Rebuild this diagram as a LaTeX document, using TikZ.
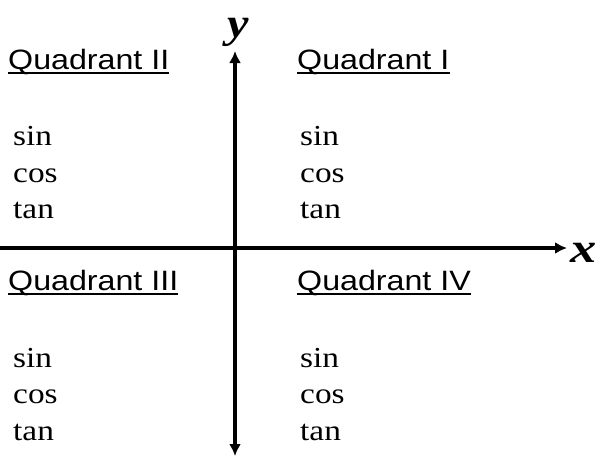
\documentclass[tikz,border=0pt]{standalone}
\usepackage{fontspec}
\setmainfont{Liberation Serif}
\newfontfamily\headfont{Liberation Sans}
\usetikzlibrary{arrows.meta}
\tikzset{
  head/.style={anchor=base west, inner sep=0pt, font=\headfont\fontsize{28}{30}\selectfont},
  trig/.style={anchor=base west, inner sep=0pt, font=\fontsize{29}{31}\selectfont},
  axislabel/.style={anchor=base, inner sep=0pt, font=\fontsize{42}{44}\selectfont\bfseries\itshape},
  axis/.style={line width=3.5pt, -{Latex[length=12pt,width=12pt]}},
  uline/.style={line width=2.6pt}
}
\newcommand{\hs}[1]{\scalebox{1.15}[1]{#1}}
\begin{document}
\begin{tikzpicture}[x=1pt,y=-1pt]
\useasboundingbox (0,0) rectangle (598,456);
\coordinate (o) at (235,248);
\coordinate (top) at (235,51);
\coordinate (bot) at (235,456);
\coordinate (left) at (0,248);
\coordinate (right) at (567,248);
\draw[axis] (o) -- (top);
\draw[axis] (o) -- (bot);
\draw[axis] (left) -- (right);
\node[axislabel] (ylab) at (238,37) {\hs{y}};
\node[axislabel] (xlab) at (584,262) {\scalebox{1.25}[1]{x}};
% headings
\node[head] (q2) at (8,69) {\hs{Quadrant II}};
\node[head] (q1) at (297,69) {\hs{Quadrant I}};
\node[head] (q3) at (8,290) {\hs{Quadrant III}};
\node[head] (q4) at (297,290) {\hs{Quadrant IV}};
\foreach \q in {q1,q2,q3,q4}
  \draw[uline] ([yshift=-4pt]\q.base west) -- ([yshift=-4pt]\q.base east);
% trig
\node[trig] (s2) at (13,145) {\hs{sin}};
\node[trig] (c2) at (13,182) {\hs{cos}};
\node[trig] (t2) at (13,218) {\hs{tan}};
\node[trig] (s1) at (300,145) {\hs{sin}};
\node[trig] (c1) at (300,182) {\hs{cos}};
\node[trig] (t1) at (300,218) {\hs{tan}};
\node[trig] (s3) at (13,367) {\hs{sin}};
\node[trig] (c3) at (13,403) {\hs{cos}};
\node[trig] (t3) at (13,440) {\hs{tan}};
\node[trig] (s4) at (300,367) {\hs{sin}};
\node[trig] (c4) at (300,403) {\hs{cos}};
\node[trig] (t4) at (300,440) {\hs{tan}};
\end{tikzpicture}
\end{document}
